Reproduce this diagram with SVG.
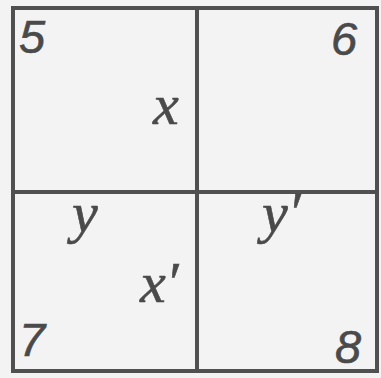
<svg xmlns="http://www.w3.org/2000/svg" width="381" height="378" viewBox="0 0 381 378">
<style>
.ln{stroke:#505050;fill:none}
.num{font-family:"Liberation Sans",Arial,sans-serif;font-style:italic;font-size:47px;fill:#4a4a4a;stroke:#4a4a4a;stroke-width:0.6}
.var{font-family:"Liberation Serif","Times New Roman",serif;font-style:italic;font-size:58px;fill:#4a4a4a;stroke:#4a4a4a;stroke-width:0.6}
</style>
<rect width="381" height="378" fill="#f3f3f3"/>
<g id="grid">
<rect class="ln" x="13" y="8" width="364" height="363" stroke-width="4"/>
<line class="ln" x1="197" y1="8" x2="197" y2="371" stroke-width="4"/>
<line class="ln" x1="13" y1="192" x2="377" y2="192" stroke-width="4"/>
</g>
<g id="labels">
<text class="num" x="19" y="53">5</text>
<text class="num" x="331" y="55">6</text>
<text class="num" x="19" y="356">7</text>
<text class="num" x="335" y="363">8</text>
<text class="var" x="153" y="124">x</text>
<text class="var" x="72" y="232">y</text>
<text class="var" x="140" y="302">x′</text>
<text class="var" x="262" y="232">y′</text>
</g>
</svg>
